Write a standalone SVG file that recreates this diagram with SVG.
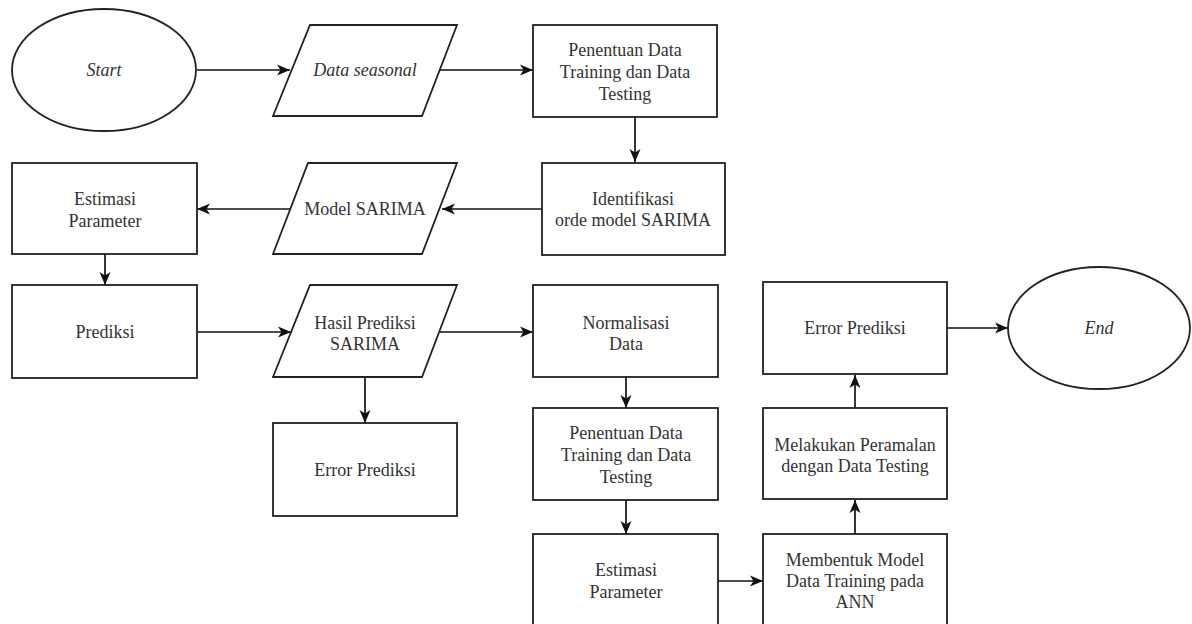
<svg xmlns="http://www.w3.org/2000/svg" width="1192" height="624" viewBox="0 0 1192 624">
<defs>
<marker id="arr" markerUnits="userSpaceOnUse" markerWidth="14" markerHeight="14" viewBox="0 0 14 14" refX="13" refY="7" orient="auto">
<path d="M0,1.5 L13,7 L0,12.5 L3.5,7 z" fill="#111"/>
</marker>
<style>
.s{fill:#fff;stroke:#222;stroke-width:1.8}
.t{font-family:"Liberation Serif","Times New Roman",serif;font-size:18px;fill:#333;text-anchor:middle;dominant-baseline:central}
.i{font-style:italic}
.c{fill:none;stroke:#111;stroke-width:1.7;marker-end:url(#arr)}
</style>
</defs>
<rect width="1192" height="624" fill="#fff"/>
<g id="connectors">
<line class="c" x1="197" y1="70" x2="290" y2="70"/>
<line class="c" x1="440" y1="70" x2="533" y2="70"/>
<line class="c" x1="635" y1="117" x2="635" y2="162"/>
<line class="c" x1="542" y1="209" x2="442" y2="209"/>
<line class="c" x1="290" y1="209" x2="197" y2="209"/>
<line class="c" x1="105" y1="254" x2="105" y2="285"/>
<line class="c" x1="197" y1="332" x2="291" y2="332"/>
<line class="c" x1="440" y1="332" x2="533" y2="332"/>
<line class="c" x1="365" y1="378" x2="365" y2="423"/>
<line class="c" x1="626" y1="377" x2="626" y2="408"/>
<line class="c" x1="626" y1="500" x2="626" y2="534"/>
<line class="c" x1="718" y1="581" x2="763" y2="581"/>
<line class="c" x1="855" y1="534" x2="855" y2="500"/>
<line class="c" x1="855" y1="408" x2="855" y2="375"/>
<line class="c" x1="947" y1="328" x2="1008" y2="328"/>
</g>
<g id="start">
<ellipse class="s" cx="104" cy="70" rx="92" ry="61"/>
<text class="t i" x="104" y="70">Start</text>
</g>
<g id="data-seasonal">
<polygon class="s" points="310,25 457,25 422,116 273,116"/>
<text class="t i" x="365" y="70">Data seasonal</text>
</g>
<g id="penentuan1">
<rect class="s" x="533" y="25" width="184" height="92"/>
<text class="t" x="625"><tspan x="625" y="50">Penentuan Data</tspan><tspan x="625" y="72">Training dan Data</tspan><tspan x="625" y="94">Testing</tspan></text>
</g>
<g id="identifikasi">
<rect class="s" x="542" y="163" width="183" height="92"/>
<text class="t" x="633"><tspan x="633" y="199">Identifikasi</tspan><tspan x="633" y="220">orde model SARIMA</tspan></text>
</g>
<g id="model-sarima">
<polygon class="s" points="308,163 457,163 422,254 273,254"/>
<text class="t" x="365" y="209">Model SARIMA</text>
</g>
<g id="estimasi1">
<rect class="s" x="12" y="163" width="185" height="91"/>
<text class="t" x="105"><tspan x="105" y="199">Estimasi</tspan><tspan x="105" y="221">Parameter</tspan></text>
</g>
<g id="prediksi">
<rect class="s" x="12" y="285" width="185" height="93"/>
<text class="t" x="105" y="332">Prediksi</text>
</g>
<g id="hasil-prediksi">
<polygon class="s" points="310,285 457,285 422,377 273,377"/>
<text class="t" x="365"><tspan x="365" y="323">Hasil Prediksi</tspan><tspan x="365" y="344">SARIMA</tspan></text>
</g>
<g id="error1">
<rect class="s" x="273" y="423" width="184" height="93"/>
<text class="t" x="365" y="470">Error Prediksi</text>
</g>
<g id="normalisasi">
<rect class="s" x="533" y="285" width="185" height="92"/>
<text class="t" x="626"><tspan x="626" y="323">Normalisasi</tspan><tspan x="626" y="344">Data</tspan></text>
</g>
<g id="penentuan2">
<rect class="s" x="533" y="408" width="185" height="92"/>
<text class="t" x="626"><tspan x="626" y="433">Penentuan Data</tspan><tspan x="626" y="455">Training dan Data</tspan><tspan x="626" y="477">Testing</tspan></text>
</g>
<g id="estimasi2">
<rect class="s" x="533" y="534" width="185" height="96"/>
<text class="t" x="626"><tspan x="626" y="570">Estimasi</tspan><tspan x="626" y="592">Parameter</tspan></text>
</g>
<g id="membentuk">
<rect class="s" x="763" y="534" width="184" height="96"/>
<text class="t" x="855"><tspan x="855" y="560">Membentuk Model</tspan><tspan x="855" y="581">Data Training pada</tspan><tspan x="855" y="602">ANN</tspan></text>
</g>
<g id="melakukan">
<rect class="s" x="763" y="408" width="184" height="91"/>
<text class="t" x="855"><tspan x="855" y="445">Melakukan Peramalan</tspan><tspan x="855" y="466">dengan Data Testing</tspan></text>
</g>
<g id="error2">
<rect class="s" x="763" y="282" width="184" height="92"/>
<text class="t" x="855" y="328">Error Prediksi</text>
</g>
<g id="end">
<ellipse class="s" cx="1099" cy="328" rx="91" ry="61"/>
<text class="t i" x="1099" y="328">End</text>
</g>
</svg>
